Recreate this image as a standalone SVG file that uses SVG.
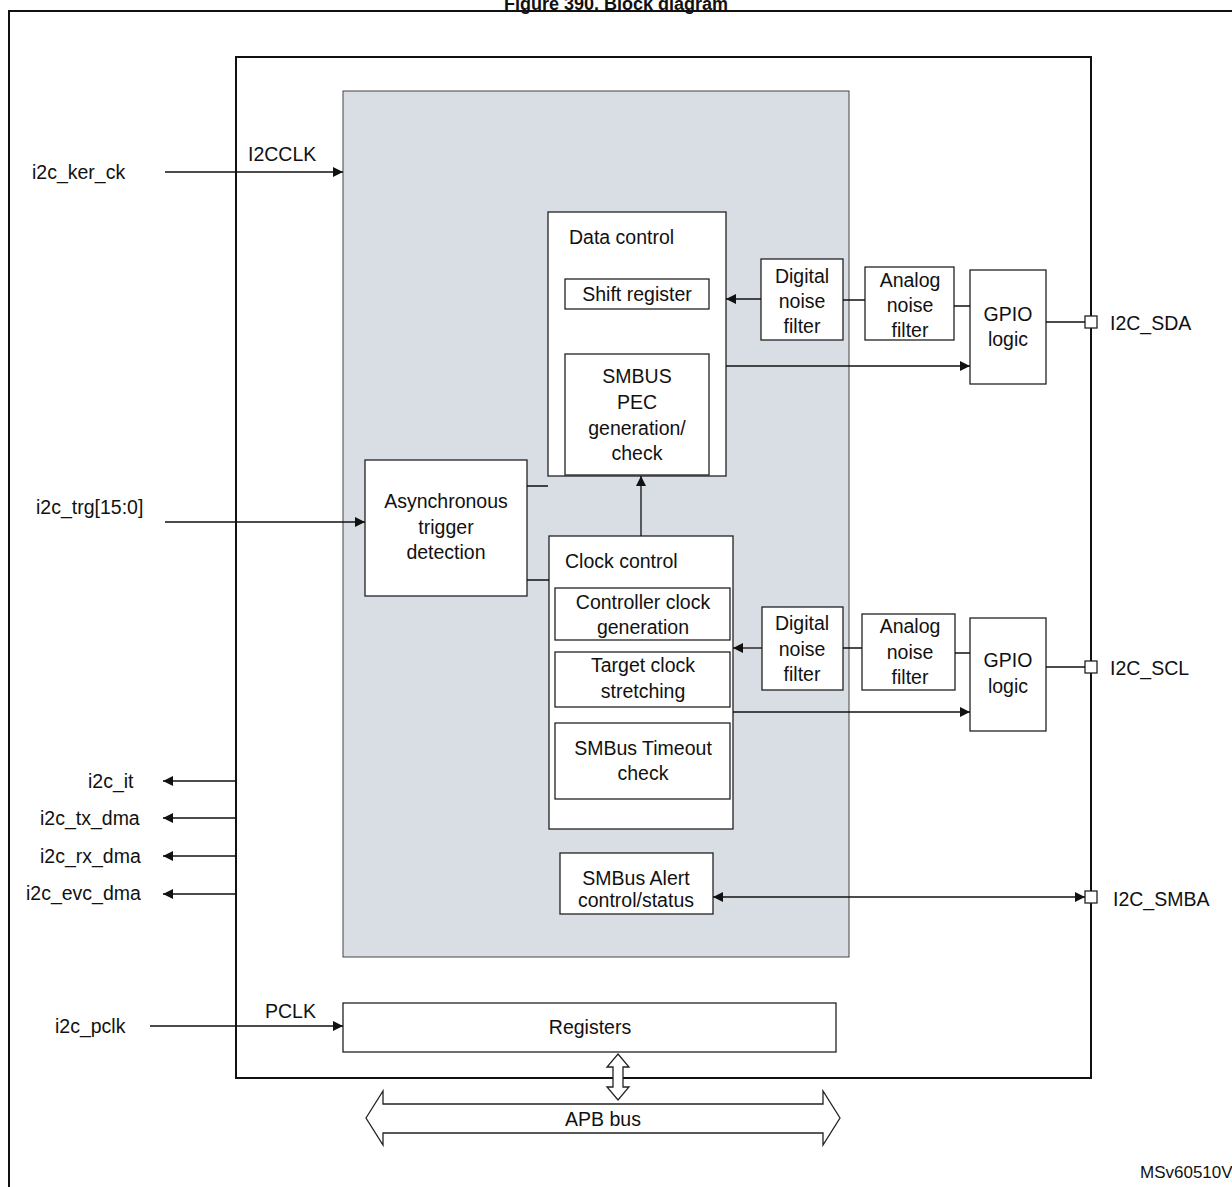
<svg xmlns="http://www.w3.org/2000/svg" width="1232" height="1187" viewBox="0 0 1232 1187">
<style>
text{font-family:"Liberation Sans",Arial,sans-serif;font-size:19.5px;fill:#111}
.b{fill:#fff;stroke:#222;stroke-width:1.3}
.l{stroke:#111;stroke-width:1.3;fill:none}
.c{text-anchor:middle}
</style>
<defs>
<marker id="a" viewBox="0 0 10 10" refX="10" refY="5" markerWidth="10" markerHeight="10" markerUnits="userSpaceOnUse" orient="auto-start-reverse"><path d="M0,0L10,5L0,10z" fill="#111"/></marker>
</defs>
<rect width="1232" height="1187" fill="#fff"/>
<text x="616" y="10" class="c" style="font-weight:bold;font-size:18px">Figure 390. Block diagram</text>
<path d="M9,1187V11H1232" stroke="#111" stroke-width="2" fill="none"/>
<rect id="main" x="236" y="57" width="855" height="1021" fill="none" stroke="#111" stroke-width="2"/>
<rect id="core" x="343" y="91" width="506" height="866" fill="#d9dde4" stroke="#444" stroke-width="1"/>
<g id="data"><rect class="b" x="548" y="212" width="178" height="264"/><text x="569" y="244">Data control</text></g>
<g id="shift"><rect class="b" x="565" y="279" width="144" height="30"/><text x="637" y="301" class="c">Shift register</text></g>
<g id="pec"><rect class="b" x="565" y="354" width="144" height="121"/><text class="c" x="637" y="383">SMBUS</text><text class="c" x="637" y="409">PEC</text><text class="c" x="637" y="435">generation/</text><text class="c" x="637" y="460">check</text></g>
<g id="async"><rect class="b" x="365" y="460" width="162" height="136"/><text class="c" x="446" y="508">Asynchronous</text><text class="c" x="446" y="534">trigger</text><text class="c" x="446" y="559">detection</text></g>
<g id="clock"><rect class="b" x="549" y="536" width="184" height="293"/><text x="565" y="568">Clock control</text></g>
<g id="ccg"><rect class="b" x="555" y="588" width="175" height="52"/><text class="c" x="643" y="609">Controller clock</text><text class="c" x="643" y="634">generation</text></g>
<g id="tcs"><rect class="b" x="555" y="652" width="175" height="55"/><text class="c" x="643" y="672">Target clock</text><text class="c" x="643" y="698">stretching</text></g>
<g id="tmo"><rect class="b" x="555" y="723" width="175" height="76"/><text class="c" x="643" y="755">SMBus Timeout</text><text class="c" x="643" y="780">check</text></g>
<g id="alert"><rect class="b" x="560" y="853" width="153" height="61"/><text class="c" x="636" y="885">SMBus Alert</text><text class="c" x="636" y="907">control/status</text></g>
<g id="dnf1"><rect class="b" x="761" y="259" width="82" height="81"/><text class="c" x="802" y="283">Digital</text><text class="c" x="802" y="308">noise</text><text class="c" x="802" y="333">filter</text></g>
<g id="anf1"><rect class="b" x="865" y="267" width="89" height="73"/><text class="c" x="910" y="287">Analog</text><text class="c" x="910" y="312">noise</text><text class="c" x="910" y="337">filter</text></g>
<g id="gpio1"><rect class="b" x="970" y="270" width="76" height="114"/><text class="c" x="1008" y="321">GPIO</text><text class="c" x="1008" y="346">logic</text></g>
<g id="dnf2"><rect class="b" x="762" y="607" width="81" height="83"/><text class="c" x="802" y="630">Digital</text><text class="c" x="802" y="656">noise</text><text class="c" x="802" y="681">filter</text></g>
<g id="anf2"><rect class="b" x="862" y="614" width="93" height="76"/><text class="c" x="910" y="633">Analog</text><text class="c" x="910" y="659">noise</text><text class="c" x="910" y="684">filter</text></g>
<g id="gpio2"><rect class="b" x="970" y="618" width="76" height="113"/><text class="c" x="1008" y="667">GPIO</text><text class="c" x="1008" y="693">logic</text></g>
<g id="regs"><rect class="b" x="343" y="1003" width="493" height="49"/><text class="c" x="590" y="1034">Registers</text></g>
<g id="pins">
<rect class="b" x="1085" y="316" width="12" height="12"/><text x="1110" y="330">I2C_SDA</text>
<rect class="b" x="1085" y="661" width="12" height="12"/><text x="1110" y="675">I2C_SCL</text>
<rect class="b" x="1085" y="891" width="12" height="12"/><text x="1113" y="906">I2C_SMBA</text>
</g>
<g id="labels">
<text x="32" y="179">i2c_ker_ck</text><text x="248" y="161">I2CCLK</text>
<text x="36" y="514">i2c_trg[15:0]</text>
<text x="55" y="1033">i2c_pclk</text><text x="265" y="1018">PCLK</text>
<text x="88" y="788">i2c_it</text>
<text x="40" y="825">i2c_tx_dma</text>
<text x="40" y="863">i2c_rx_dma</text>
<text x="26" y="900">i2c_evc_dma</text>
<text x="1140" y="1178" style="font-size:17px">MSv60510V2</text>
</g>
<g id="connectors">
<path class="l" marker-end="url(#a)" d="M165,172H343"/>
<path class="l" marker-end="url(#a)" d="M165,522H365"/>
<path class="l" marker-end="url(#a)" d="M150,1026H343"/>
<path class="l" marker-end="url(#a)" d="M236,781H163"/>
<path class="l" marker-end="url(#a)" d="M236,818H163"/>
<path class="l" marker-end="url(#a)" d="M236,856H163"/>
<path class="l" marker-end="url(#a)" d="M236,894H163"/>
<path class="l" marker-end="url(#a)" d="M761,299H726"/>
<path class="l" marker-end="url(#a)" d="M762,648H733"/>
<path class="l" d="M843,300H865M954,306H970M1046,322H1085M843,648H862M955,653H970M1046,667H1085M527,486H548M527,580H549"/>
<path class="l" marker-end="url(#a)" d="M726,366H970"/>
<path class="l" marker-end="url(#a)" d="M733,712H970"/>
<path class="l" marker-end="url(#a)" d="M641,536V476"/>
<path class="l" marker-start="url(#a)" marker-end="url(#a)" d="M713,897H1085"/>
<path class="b" d="M618,1054L629,1067H623V1087H629L618,1100L607,1087H613V1067H607Z"/>
<path class="b" d="M366,1118L383,1091V1104H823V1091L840,1118L823,1145V1133H383V1145Z"/>
<text class="c" x="603" y="1126">APB bus</text>
</g>
</svg>
